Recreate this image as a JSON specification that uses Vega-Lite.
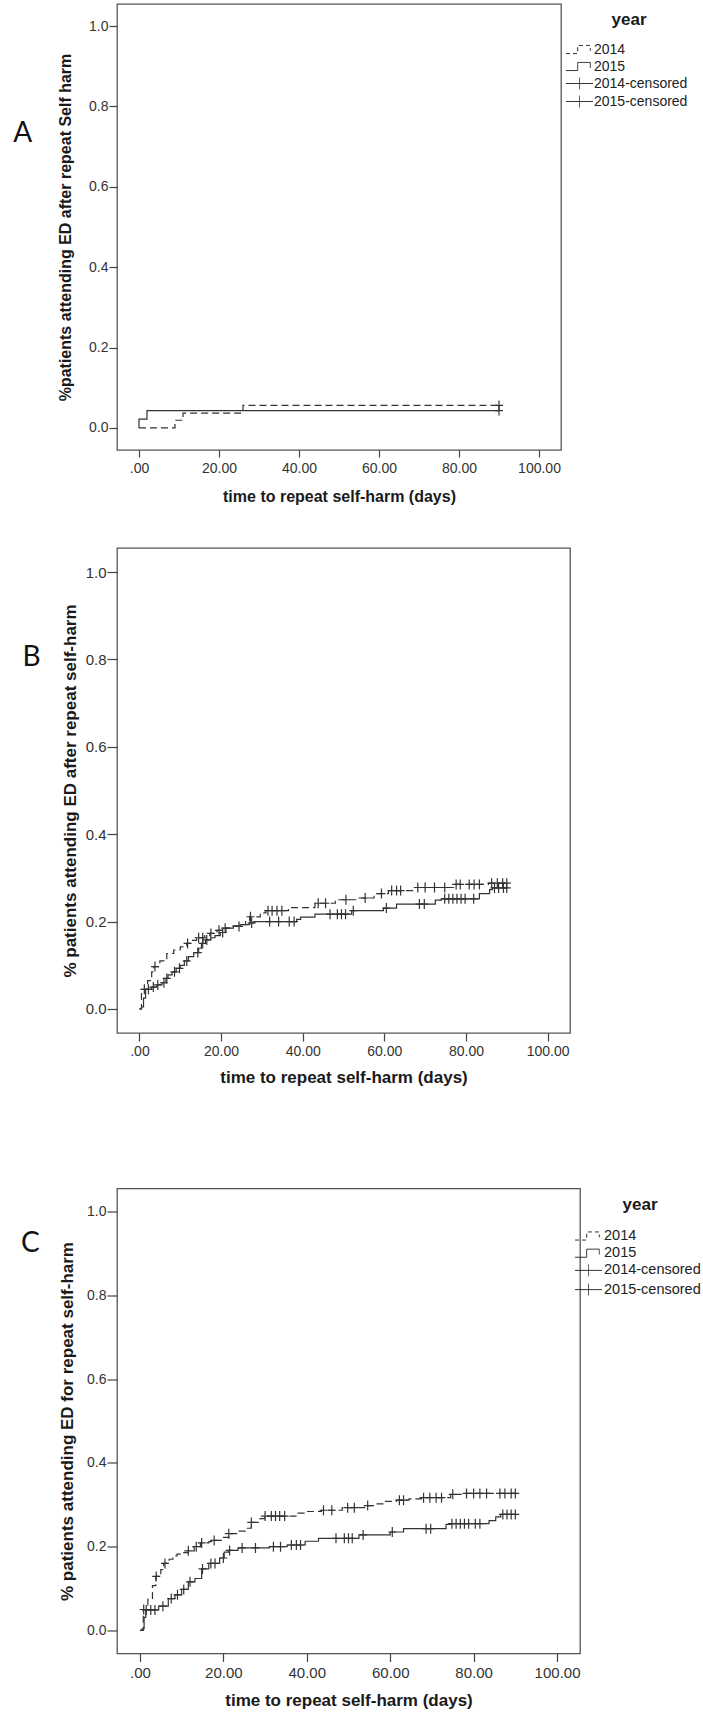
{
  "$schema": "https://vega.github.io/schema/vega-lite/v6.json",
  "padding": {"top": 3, "left": 12, "right": 0, "bottom": 0},
  "background": "white",
  "config": {
    "view": {"stroke": "#555", "strokeWidth": 1.3},
    "font": "Liberation Sans",
    "axis": {"domain": false, "grid": false, "tickColor": "#444", "tickWidth": 1.2, "labelColor": "#333", "labelFont": "Liberation Sans", "titleFont": "Liberation Sans", "titleFontWeight": "bold", "titleColor": "#1a1a1a"},
    "legend": {"labelFont": "Liberation Sans", "titleFont": "Liberation Sans", "labelColor": "#222", "titleColor": "#1a1a1a"}
  },
  "datasets": {
    "A_km": [
      {"year": "2014", "t": 0, "p": 0}, {"year": "2014", "t": 9, "p": 0.019}, {"year": "2014", "t": 11, "p": 0.037}, {"year": "2014", "t": 26, "p": 0.056}, {"year": "2014", "t": 90, "p": 0.056},
      {"year": "2015", "t": 0, "p": 0}, {"year": "2015", "t": 0, "p": 0.022}, {"year": "2015", "t": 2, "p": 0.043}, {"year": "2015", "t": 90, "p": 0.043}
    ],
    "A_cens": [
      {"year": "2014", "t": 90, "p": 0.056}, {"year": "2015", "t": 90, "p": 0.043}
    ],
    "B_km": [
      {"year": "2014", "t": 0, "p": 0}, {"year": "2014", "t": 0.5, "p": 0.045}, {"year": "2014", "t": 2, "p": 0.065}, {"year": "2014", "t": 3, "p": 0.085}, {"year": "2014", "t": 3.5, "p": 0.097}, {"year": "2014", "t": 5, "p": 0.11}, {"year": "2014", "t": 6.7, "p": 0.127}, {"year": "2014", "t": 8.4, "p": 0.135}, {"year": "2014", "t": 10, "p": 0.142}, {"year": "2014", "t": 11.6, "p": 0.15}, {"year": "2014", "t": 13, "p": 0.157}, {"year": "2014", "t": 14, "p": 0.163}, {"year": "2014", "t": 16, "p": 0.168}, {"year": "2014", "t": 17.3, "p": 0.173}, {"year": "2014", "t": 19, "p": 0.18}, {"year": "2014", "t": 20.6, "p": 0.185}, {"year": "2014", "t": 22.5, "p": 0.19}, {"year": "2014", "t": 24.7, "p": 0.193}, {"year": "2014", "t": 26, "p": 0.2}, {"year": "2014", "t": 27, "p": 0.211}, {"year": "2014", "t": 29.6, "p": 0.22}, {"year": "2014", "t": 31, "p": 0.225}, {"year": "2014", "t": 36.5, "p": 0.232}, {"year": "2014", "t": 43, "p": 0.242}, {"year": "2014", "t": 48, "p": 0.25}, {"year": "2014", "t": 53, "p": 0.254}, {"year": "2014", "t": 57.5, "p": 0.264}, {"year": "2014", "t": 61, "p": 0.271}, {"year": "2014", "t": 67, "p": 0.278}, {"year": "2014", "t": 77, "p": 0.285}, {"year": "2014", "t": 85.5, "p": 0.288}, {"year": "2014", "t": 90, "p": 0.288},
      {"year": "2015", "t": 0, "p": 0}, {"year": "2015", "t": 0.5, "p": 0.005}, {"year": "2015", "t": 1, "p": 0.025}, {"year": "2015", "t": 1.5, "p": 0.045}, {"year": "2015", "t": 3, "p": 0.05}, {"year": "2015", "t": 4.3, "p": 0.055}, {"year": "2015", "t": 5.5, "p": 0.06}, {"year": "2015", "t": 6.5, "p": 0.07}, {"year": "2015", "t": 7, "p": 0.078}, {"year": "2015", "t": 8, "p": 0.085}, {"year": "2015", "t": 9, "p": 0.093}, {"year": "2015", "t": 10, "p": 0.1}, {"year": "2015", "t": 11, "p": 0.11}, {"year": "2015", "t": 12, "p": 0.12}, {"year": "2015", "t": 13.3, "p": 0.129}, {"year": "2015", "t": 14.5, "p": 0.139}, {"year": "2015", "t": 15.2, "p": 0.15}, {"year": "2015", "t": 16.2, "p": 0.158}, {"year": "2015", "t": 17.5, "p": 0.163}, {"year": "2015", "t": 18.5, "p": 0.168}, {"year": "2015", "t": 19.8, "p": 0.175}, {"year": "2015", "t": 21.2, "p": 0.185}, {"year": "2015", "t": 23, "p": 0.189}, {"year": "2015", "t": 24.7, "p": 0.193}, {"year": "2015", "t": 27, "p": 0.197}, {"year": "2015", "t": 28, "p": 0.2}, {"year": "2015", "t": 38.5, "p": 0.205}, {"year": "2015", "t": 39.5, "p": 0.21}, {"year": "2015", "t": 43, "p": 0.217}, {"year": "2015", "t": 52, "p": 0.225}, {"year": "2015", "t": 59.8, "p": 0.231}, {"year": "2015", "t": 63, "p": 0.24}, {"year": "2015", "t": 72.5, "p": 0.249}, {"year": "2015", "t": 74, "p": 0.252}, {"year": "2015", "t": 83.3, "p": 0.264}, {"year": "2015", "t": 85.8, "p": 0.273}, {"year": "2015", "t": 86.5, "p": 0.277}, {"year": "2015", "t": 90, "p": 0.277}
    ],
    "B_cens": [
      {"year": "2014", "t": 1.2, "p": 0.045}, {"year": "2014", "t": 3.8, "p": 0.097}, {"year": "2014", "t": 11.8, "p": 0.15}, {"year": "2014", "t": 14.5, "p": 0.163}, {"year": "2014", "t": 15.5, "p": 0.163}, {"year": "2014", "t": 17.5, "p": 0.173}, {"year": "2014", "t": 19.5, "p": 0.18}, {"year": "2014", "t": 21, "p": 0.185}, {"year": "2014", "t": 27.2, "p": 0.211}, {"year": "2014", "t": 31.5, "p": 0.225}, {"year": "2014", "t": 32.5, "p": 0.225}, {"year": "2014", "t": 33.7, "p": 0.225}, {"year": "2014", "t": 34.9, "p": 0.225}, {"year": "2014", "t": 43.8, "p": 0.242}, {"year": "2014", "t": 45.6, "p": 0.242}, {"year": "2014", "t": 50.6, "p": 0.25}, {"year": "2014", "t": 55.3, "p": 0.254}, {"year": "2014", "t": 59.3, "p": 0.264}, {"year": "2014", "t": 61.8, "p": 0.271}, {"year": "2014", "t": 63, "p": 0.271}, {"year": "2014", "t": 64, "p": 0.271}, {"year": "2014", "t": 68.2, "p": 0.278}, {"year": "2014", "t": 70, "p": 0.278}, {"year": "2014", "t": 72.3, "p": 0.278}, {"year": "2014", "t": 74.8, "p": 0.278}, {"year": "2014", "t": 77.6, "p": 0.285}, {"year": "2014", "t": 78.6, "p": 0.285}, {"year": "2014", "t": 80.8, "p": 0.285}, {"year": "2014", "t": 82, "p": 0.285}, {"year": "2014", "t": 83.3, "p": 0.285}, {"year": "2014", "t": 86.3, "p": 0.288}, {"year": "2014", "t": 87.7, "p": 0.288}, {"year": "2014", "t": 89, "p": 0.288}, {"year": "2014", "t": 90, "p": 0.288},
      {"year": "2015", "t": 2.2, "p": 0.045}, {"year": "2015", "t": 3.4, "p": 0.05}, {"year": "2015", "t": 4.5, "p": 0.055}, {"year": "2015", "t": 6, "p": 0.06}, {"year": "2015", "t": 6.7, "p": 0.07}, {"year": "2015", "t": 8.6, "p": 0.085}, {"year": "2015", "t": 9.8, "p": 0.093}, {"year": "2015", "t": 11.6, "p": 0.11}, {"year": "2015", "t": 14.3, "p": 0.129}, {"year": "2015", "t": 15.5, "p": 0.15}, {"year": "2015", "t": 16.5, "p": 0.158}, {"year": "2015", "t": 20.4, "p": 0.175}, {"year": "2015", "t": 24.4, "p": 0.189}, {"year": "2015", "t": 27.5, "p": 0.197}, {"year": "2015", "t": 31.9, "p": 0.2}, {"year": "2015", "t": 34.1, "p": 0.2}, {"year": "2015", "t": 36.7, "p": 0.2}, {"year": "2015", "t": 37.9, "p": 0.2}, {"year": "2015", "t": 46.7, "p": 0.217}, {"year": "2015", "t": 48.5, "p": 0.217}, {"year": "2015", "t": 49.5, "p": 0.217}, {"year": "2015", "t": 50.5, "p": 0.217}, {"year": "2015", "t": 52.4, "p": 0.225}, {"year": "2015", "t": 60.5, "p": 0.231}, {"year": "2015", "t": 68.6, "p": 0.24}, {"year": "2015", "t": 69.8, "p": 0.24}, {"year": "2015", "t": 74.8, "p": 0.252}, {"year": "2015", "t": 75.8, "p": 0.252}, {"year": "2015", "t": 76.8, "p": 0.252}, {"year": "2015", "t": 77.8, "p": 0.252}, {"year": "2015", "t": 78.8, "p": 0.252}, {"year": "2015", "t": 79.8, "p": 0.252}, {"year": "2015", "t": 81.9, "p": 0.252}, {"year": "2015", "t": 87, "p": 0.277}, {"year": "2015", "t": 88, "p": 0.277}, {"year": "2015", "t": 89.2, "p": 0.277}, {"year": "2015", "t": 90, "p": 0.277}
    ],
    "C_km": [
      {"year": "2014", "t": 0, "p": 0}, {"year": "2014", "t": 0.8, "p": 0.05}, {"year": "2014", "t": 1.9, "p": 0.075}, {"year": "2014", "t": 3, "p": 0.107}, {"year": "2014", "t": 3.8, "p": 0.129}, {"year": "2014", "t": 5, "p": 0.145}, {"year": "2014", "t": 5.7, "p": 0.16}, {"year": "2014", "t": 7, "p": 0.17}, {"year": "2014", "t": 7.9, "p": 0.178}, {"year": "2014", "t": 8.9, "p": 0.182}, {"year": "2014", "t": 10.5, "p": 0.186}, {"year": "2014", "t": 11.6, "p": 0.19}, {"year": "2014", "t": 13, "p": 0.2}, {"year": "2014", "t": 14.5, "p": 0.209}, {"year": "2014", "t": 16.5, "p": 0.212}, {"year": "2014", "t": 17.5, "p": 0.215}, {"year": "2014", "t": 19.7, "p": 0.222}, {"year": "2014", "t": 21.3, "p": 0.231}, {"year": "2014", "t": 23.4, "p": 0.237}, {"year": "2014", "t": 25.6, "p": 0.244}, {"year": "2014", "t": 26.7, "p": 0.258}, {"year": "2014", "t": 28.8, "p": 0.267}, {"year": "2014", "t": 29.9, "p": 0.273}, {"year": "2014", "t": 37.4, "p": 0.28}, {"year": "2014", "t": 40, "p": 0.284}, {"year": "2014", "t": 43.5, "p": 0.287}, {"year": "2014", "t": 48.5, "p": 0.293}, {"year": "2014", "t": 54.5, "p": 0.298}, {"year": "2014", "t": 56, "p": 0.302}, {"year": "2014", "t": 58.4, "p": 0.308}, {"year": "2014", "t": 61.5, "p": 0.311}, {"year": "2014", "t": 64.5, "p": 0.314}, {"year": "2014", "t": 67.5, "p": 0.317}, {"year": "2014", "t": 74.5, "p": 0.325}, {"year": "2014", "t": 77.5, "p": 0.327}, {"year": "2014", "t": 90, "p": 0.327},
      {"year": "2015", "t": 0, "p": 0}, {"year": "2015", "t": 0.5, "p": 0.004}, {"year": "2015", "t": 1, "p": 0.031}, {"year": "2015", "t": 1.4, "p": 0.049}, {"year": "2015", "t": 4.5, "p": 0.058}, {"year": "2015", "t": 6.8, "p": 0.076}, {"year": "2015", "t": 8.4, "p": 0.085}, {"year": "2015", "t": 10, "p": 0.098}, {"year": "2015", "t": 11.6, "p": 0.116}, {"year": "2015", "t": 13.2, "p": 0.124}, {"year": "2015", "t": 14.8, "p": 0.147}, {"year": "2015", "t": 16.5, "p": 0.16}, {"year": "2015", "t": 19.1, "p": 0.173}, {"year": "2015", "t": 20.2, "p": 0.187}, {"year": "2015", "t": 21.3, "p": 0.191}, {"year": "2015", "t": 23.5, "p": 0.197}, {"year": "2015", "t": 31, "p": 0.2}, {"year": "2015", "t": 35.3, "p": 0.204}, {"year": "2015", "t": 39.6, "p": 0.213}, {"year": "2015", "t": 42.8, "p": 0.22}, {"year": "2015", "t": 52.5, "p": 0.228}, {"year": "2015", "t": 60, "p": 0.235}, {"year": "2015", "t": 63.2, "p": 0.243}, {"year": "2015", "t": 73.4, "p": 0.253}, {"year": "2015", "t": 74.5, "p": 0.255}, {"year": "2015", "t": 83.7, "p": 0.262}, {"year": "2015", "t": 85.3, "p": 0.271}, {"year": "2015", "t": 86.5, "p": 0.277}, {"year": "2015", "t": 90, "p": 0.277}
    ],
    "C_cens": [
      {"year": "2014", "t": 0.9, "p": 0.05}, {"year": "2014", "t": 3.9, "p": 0.129}, {"year": "2014", "t": 6, "p": 0.16}, {"year": "2014", "t": 11.6, "p": 0.19}, {"year": "2014", "t": 13.5, "p": 0.2}, {"year": "2014", "t": 14.8, "p": 0.209}, {"year": "2014", "t": 17.8, "p": 0.215}, {"year": "2014", "t": 21.3, "p": 0.231}, {"year": "2014", "t": 26.7, "p": 0.258}, {"year": "2014", "t": 30, "p": 0.273}, {"year": "2014", "t": 31.5, "p": 0.273}, {"year": "2014", "t": 32.5, "p": 0.273}, {"year": "2014", "t": 33.5, "p": 0.273}, {"year": "2014", "t": 34.7, "p": 0.273}, {"year": "2014", "t": 44, "p": 0.287}, {"year": "2014", "t": 46, "p": 0.287}, {"year": "2014", "t": 49.8, "p": 0.293}, {"year": "2014", "t": 51.4, "p": 0.293}, {"year": "2014", "t": 54.6, "p": 0.298}, {"year": "2014", "t": 62.2, "p": 0.311}, {"year": "2014", "t": 63.2, "p": 0.311}, {"year": "2014", "t": 68, "p": 0.317}, {"year": "2014", "t": 69.5, "p": 0.317}, {"year": "2014", "t": 71, "p": 0.317}, {"year": "2014", "t": 72.3, "p": 0.317}, {"year": "2014", "t": 75, "p": 0.325}, {"year": "2014", "t": 78.3, "p": 0.327}, {"year": "2014", "t": 80, "p": 0.327}, {"year": "2014", "t": 81.5, "p": 0.327}, {"year": "2014", "t": 83.1, "p": 0.327}, {"year": "2014", "t": 86.3, "p": 0.327}, {"year": "2014", "t": 87.5, "p": 0.327}, {"year": "2014", "t": 89, "p": 0.327}, {"year": "2014", "t": 90, "p": 0.327},
      {"year": "2015", "t": 1.5, "p": 0.049}, {"year": "2015", "t": 2.6, "p": 0.049}, {"year": "2015", "t": 3.6, "p": 0.049}, {"year": "2015", "t": 5.5, "p": 0.058}, {"year": "2015", "t": 7.5, "p": 0.076}, {"year": "2015", "t": 9, "p": 0.085}, {"year": "2015", "t": 10.5, "p": 0.098}, {"year": "2015", "t": 12, "p": 0.116}, {"year": "2015", "t": 15, "p": 0.147}, {"year": "2015", "t": 17, "p": 0.16}, {"year": "2015", "t": 18, "p": 0.16}, {"year": "2015", "t": 20, "p": 0.173}, {"year": "2015", "t": 21.5, "p": 0.191}, {"year": "2015", "t": 24.5, "p": 0.197}, {"year": "2015", "t": 27.7, "p": 0.197}, {"year": "2015", "t": 32, "p": 0.2}, {"year": "2015", "t": 33.7, "p": 0.2}, {"year": "2015", "t": 36.3, "p": 0.204}, {"year": "2015", "t": 37.5, "p": 0.204}, {"year": "2015", "t": 38.5, "p": 0.204}, {"year": "2015", "t": 47, "p": 0.22}, {"year": "2015", "t": 49, "p": 0.22}, {"year": "2015", "t": 50, "p": 0.22}, {"year": "2015", "t": 50.9, "p": 0.22}, {"year": "2015", "t": 53.5, "p": 0.228}, {"year": "2015", "t": 60.5, "p": 0.235}, {"year": "2015", "t": 68.6, "p": 0.243}, {"year": "2015", "t": 69.7, "p": 0.243}, {"year": "2015", "t": 74.8, "p": 0.255}, {"year": "2015", "t": 75.8, "p": 0.255}, {"year": "2015", "t": 76.8, "p": 0.255}, {"year": "2015", "t": 77.8, "p": 0.255}, {"year": "2015", "t": 78.8, "p": 0.255}, {"year": "2015", "t": 80.4, "p": 0.255}, {"year": "2015", "t": 81.5, "p": 0.255}, {"year": "2015", "t": 87, "p": 0.277}, {"year": "2015", "t": 88, "p": 0.277}, {"year": "2015", "t": 89, "p": 0.277}, {"year": "2015", "t": 90, "p": 0.277}
    ],
    "legend_items": [
      {"series": "2014"}, {"series": "2015"}, {"series": "2014-censored"}, {"series": "2015-censored"}
    ]
  },
  "columns": 1,
  "align": "none",
  "spacing": 101.5,
  "concat": [
    {
      "columns": 1,
      "align": "none",
      "spacing": 42,
      "concat": [
        {
          "width": 444, "height": 446,
          "title": {"text": "A", "orient": "left", "angle": 0, "anchor": "end", "align": "right", "baseline": "middle", "dy": 130, "offset": 6.5, "fontSize": 28, "font": "Lato", "fontWeight": "normal", "color": "#111"},
          "encoding": {
            "x": {"field": "t", "type": "quantitative", "scale": {"domain": [-5.5, 105.5], "nice": false, "zero": false},
                  "axis": {"values": [0, 20, 40, 60, 80, 100], "labelExpr": "datum.value == 0 ? '.00' : format(datum.value, '.2f')", "title": "time to repeat self-harm (days)", "tickSize": 7, "labelPadding": 4, "titlePadding": 13, "labelFontSize": 14, "titleFontSize": 16}},
            "y": {"field": "p", "type": "quantitative", "scale": {"domain": [-0.055, 1.055], "nice": false, "zero": false},
                  "axis": {"values": [0, 0.2, 0.4, 0.6, 0.8, 1.0], "format": ".1f", "title": "%patients attending ED after repeat Self harm", "tickSize": 8, "labelPadding": 1, "titlePadding": 14.8, "labelFontSize": 14, "titleFontSize": 16}}
          },
          "layer": [
            {"data": {"name": "A_km"}, "transform": [{"filter": "datum.year == '2014'"}], "mark": {"type": "line", "interpolate": "step-after", "strokeDash": [7, 4], "color": "#333", "strokeWidth": 1.2}},
            {"data": {"name": "A_km"}, "transform": [{"filter": "datum.year == '2015'"}], "mark": {"type": "line", "interpolate": "step-after", "color": "#333", "strokeWidth": 1.2}},
            {"data": {"name": "A_cens"}, "mark": {"type": "point", "shape": "M-0.8,0H0.8M0,-1V1", "size": 100, "filled": false, "color": "#333", "strokeWidth": 1.2, "opacity": 1}},
            {"data": {"name": "legend_items"}, "transform": [{"filter": "datum.series == 'none'"}],
             "mark": {"type": "point", "filled": false, "color": "#333", "strokeWidth": 1, "opacity": 1},
             "encoding": {
               "x": {"value": 0}, "y": {"value": 0},
               "shape": {"field": "series", "type": "nominal", "scale": {"domain": ["2014", "2015", "2014-censored", "2015-censored"], "range": ["M-1.5,0.45H-0.2V-0.45H1.2V0.15", "M-1.5,0.45H-0.2V-0.45H1.2V0.15", "M-1.5,0H1.5M0,-0.65V0.65", "M-1.5,0H1.5M0,-0.65V0.65"]},
                         "legend": {"title": "year", "orient": "right", "offset": -8.9, "padding": 8, "symbolSize": 324, "symbolStrokeWidth": 1, "labelFontSize": 14, "labelOffset": 5, "rowPadding": 0, "titleFontSize": 17, "titleFontWeight": "bold", "titleAnchor": "middle", "titlePadding": 11}},
               "strokeDash": {"field": "series", "type": "nominal", "scale": {"domain": ["2014", "2015", "2014-censored", "2015-censored"], "range": [[4, 3], [1, 0], [1, 0], [1, 0]]},
                         "legend": {"title": "year", "orient": "right", "offset": -8.9, "padding": 8, "symbolSize": 324, "symbolStrokeWidth": 1, "labelFontSize": 14, "labelOffset": 5, "rowPadding": 0, "titleFontSize": 17, "titleFontWeight": "bold", "titleAnchor": "middle", "titlePadding": 11}}
             }}
          ]
        },
        {
          "width": 453, "height": 485,
          "title": {"text": "B", "orient": "left", "angle": 0, "anchor": "end", "align": "right", "baseline": "middle", "dy": 110, "offset": 2.5, "fontSize": 28, "font": "Lato", "fontWeight": "normal", "color": "#111"},
          "encoding": {
            "x": {"field": "t", "type": "quantitative", "scale": {"domain": [-5.5, 105.5], "nice": false, "zero": false},
                  "axis": {"values": [0, 20, 40, 60, 80, 100], "labelExpr": "datum.value == 0 ? '.00' : format(datum.value, '.2f')", "title": "time to repeat self-harm (days)", "tickSize": 8, "labelPadding": 3, "titlePadding": 11, "labelFontSize": 14, "titleFontSize": 17}},
            "y": {"field": "p", "type": "quantitative", "scale": {"domain": [-0.055, 1.055], "nice": false, "zero": false},
                  "axis": {"values": [0, 0.2, 0.4, 0.6, 0.8, 1.0], "format": ".1f", "title": "% patients attending ED after repeat self-harm", "tickSize": 10, "labelPadding": 1, "titlePadding": 6, "labelFontSize": 15, "titleFontSize": 17}}
          },
          "layer": [
            {"data": {"name": "B_km"}, "transform": [{"filter": "datum.year == '2014'"}], "mark": {"type": "line", "interpolate": "step-after", "strokeDash": [7, 4], "color": "#333", "strokeWidth": 1.2}},
            {"data": {"name": "B_km"}, "transform": [{"filter": "datum.year == '2015'"}], "mark": {"type": "line", "interpolate": "step-after", "color": "#333", "strokeWidth": 1.2}},
            {"data": {"name": "B_cens"}, "mark": {"type": "point", "shape": "M-0.8,0H0.8M0,-1V1", "size": 100, "filled": false, "color": "#333", "strokeWidth": 1.2, "opacity": 1}},
            {"data": {"name": "legend_items"}, "transform": [{"filter": "datum.series == 'none'"}],
             "mark": {"type": "point", "filled": false, "color": "#333", "strokeWidth": 1, "opacity": 1},
             "encoding": {
               "x": {"value": 0}, "y": {"value": 0},
               "shape": {"field": "series", "type": "nominal", "scale": {"domain": ["2014", "2015", "2014-censored", "2015-censored"], "range": ["M-1.5,0.45H-0.2V-0.45H1.2V0.15", "M-1.5,0.45H-0.2V-0.45H1.2V0.15", "M-1.5,0H1.5M0,-0.65V0.65", "M-1.5,0H1.5M0,-0.65V0.65"]},
                         "legend": {"title": "year", "orient": "right", "offset": -8.6, "padding": 8, "symbolSize": 324, "symbolStrokeWidth": 1, "labelFontSize": 14, "labelOffset": 6, "rowPadding": 0.4, "titleFontSize": 16, "titleFontWeight": "normal", "titleAnchor": "middle", "titlePadding": 14.5}},
               "strokeDash": {"field": "series", "type": "nominal", "scale": {"domain": ["2014", "2015", "2014-censored", "2015-censored"], "range": [[4, 3], [1, 0], [1, 0], [1, 0]]},
                         "legend": {"title": "year", "orient": "right", "offset": -8.6, "padding": 8, "symbolSize": 324, "symbolStrokeWidth": 1, "labelFontSize": 14, "labelOffset": 6, "rowPadding": 0.4, "titleFontSize": 16, "titleFontWeight": "normal", "titleAnchor": "middle", "titlePadding": 14.5}}
             }}
          ]
        }
      ]
    },
    {
      "width": 463, "height": 465,
      "title": {"text": "C", "orient": "left", "angle": 0, "anchor": "end", "align": "right", "baseline": "middle", "dy": 55, "offset": 0, "fontSize": 28, "font": "Lato", "fontWeight": "normal", "color": "#111"},
      "encoding": {
        "x": {"field": "t", "type": "quantitative", "scale": {"domain": [-5.5, 105.5], "nice": false, "zero": false},
              "axis": {"values": [0, 20, 40, 60, 80, 100], "labelExpr": "datum.value == 0 ? '.00' : format(datum.value, '.2f')", "title": "time to repeat self-harm (days)", "tickSize": 8, "labelPadding": 4, "titlePadding": 12, "labelFontSize": 15, "titleFontSize": 17}},
        "y": {"field": "p", "type": "quantitative", "scale": {"domain": [-0.055, 1.055], "nice": false, "zero": false},
              "axis": {"values": [0, 0.2, 0.4, 0.6, 0.8, 1.0], "format": ".1f", "title": "% patients attending ED for repeat self-harm", "tickSize": 10, "labelPadding": 1, "titlePadding": 10, "labelFontSize": 14, "titleFontSize": 17}}
      },
      "layer": [
        {"data": {"name": "C_km"}, "transform": [{"filter": "datum.year == '2014'"}], "mark": {"type": "line", "interpolate": "step-after", "strokeDash": [7, 4], "color": "#333", "strokeWidth": 1.2}},
        {"data": {"name": "C_km"}, "transform": [{"filter": "datum.year == '2015'"}], "mark": {"type": "line", "interpolate": "step-after", "color": "#333", "strokeWidth": 1.2}},
        {"data": {"name": "C_cens"}, "mark": {"type": "point", "shape": "M-0.8,0H0.8M0,-1V1", "size": 100, "filled": false, "color": "#333", "strokeWidth": 1.2, "opacity": 1}},
        {"data": {"name": "legend_items"}, "transform": [{"filter": "datum.series == 'none'"}],
         "mark": {"type": "point", "filled": false, "color": "#333", "strokeWidth": 1, "opacity": 1},
         "encoding": {
           "x": {"value": 0}, "y": {"value": 0},
           "shape": {"field": "series", "type": "nominal", "scale": {"domain": ["2014", "2015", "2014-censored", "2015-censored"], "range": ["M-1.5,0.45H-0.2V-0.45H1.2V0.15", "M-1.5,0.45H-0.2V-0.45H1.2V0.15", "M-1.5,0H1.5M0,-0.65V0.65", "M-1.5,0H1.5M0,-0.65V0.65"]},
                     "legend": {"title": "year", "orient": "right", "offset": -8.8, "padding": 8, "symbolSize": 324, "symbolStrokeWidth": 1, "labelFontSize": 14.5, "labelOffset": 6, "rowPadding": 1.2, "titleFontSize": 17, "titleFontWeight": "bold", "titleAnchor": "middle", "titlePadding": 13}},
           "strokeDash": {"field": "series", "type": "nominal", "scale": {"domain": ["2014", "2015", "2014-censored", "2015-censored"], "range": [[4, 3], [1, 0], [1, 0], [1, 0]]},
                     "legend": {"title": "year", "orient": "right", "offset": -8.8, "padding": 8, "symbolSize": 324, "symbolStrokeWidth": 1, "labelFontSize": 14.5, "labelOffset": 6, "rowPadding": 1.2, "titleFontSize": 17, "titleFontWeight": "bold", "titleAnchor": "middle", "titlePadding": 13}}
         }}
      ]
    }
  ],
  "resolve": {"scale": {"shape": "independent", "strokeDash": "independent"}, "legend": {"shape": "independent", "strokeDash": "independent"}}
}
